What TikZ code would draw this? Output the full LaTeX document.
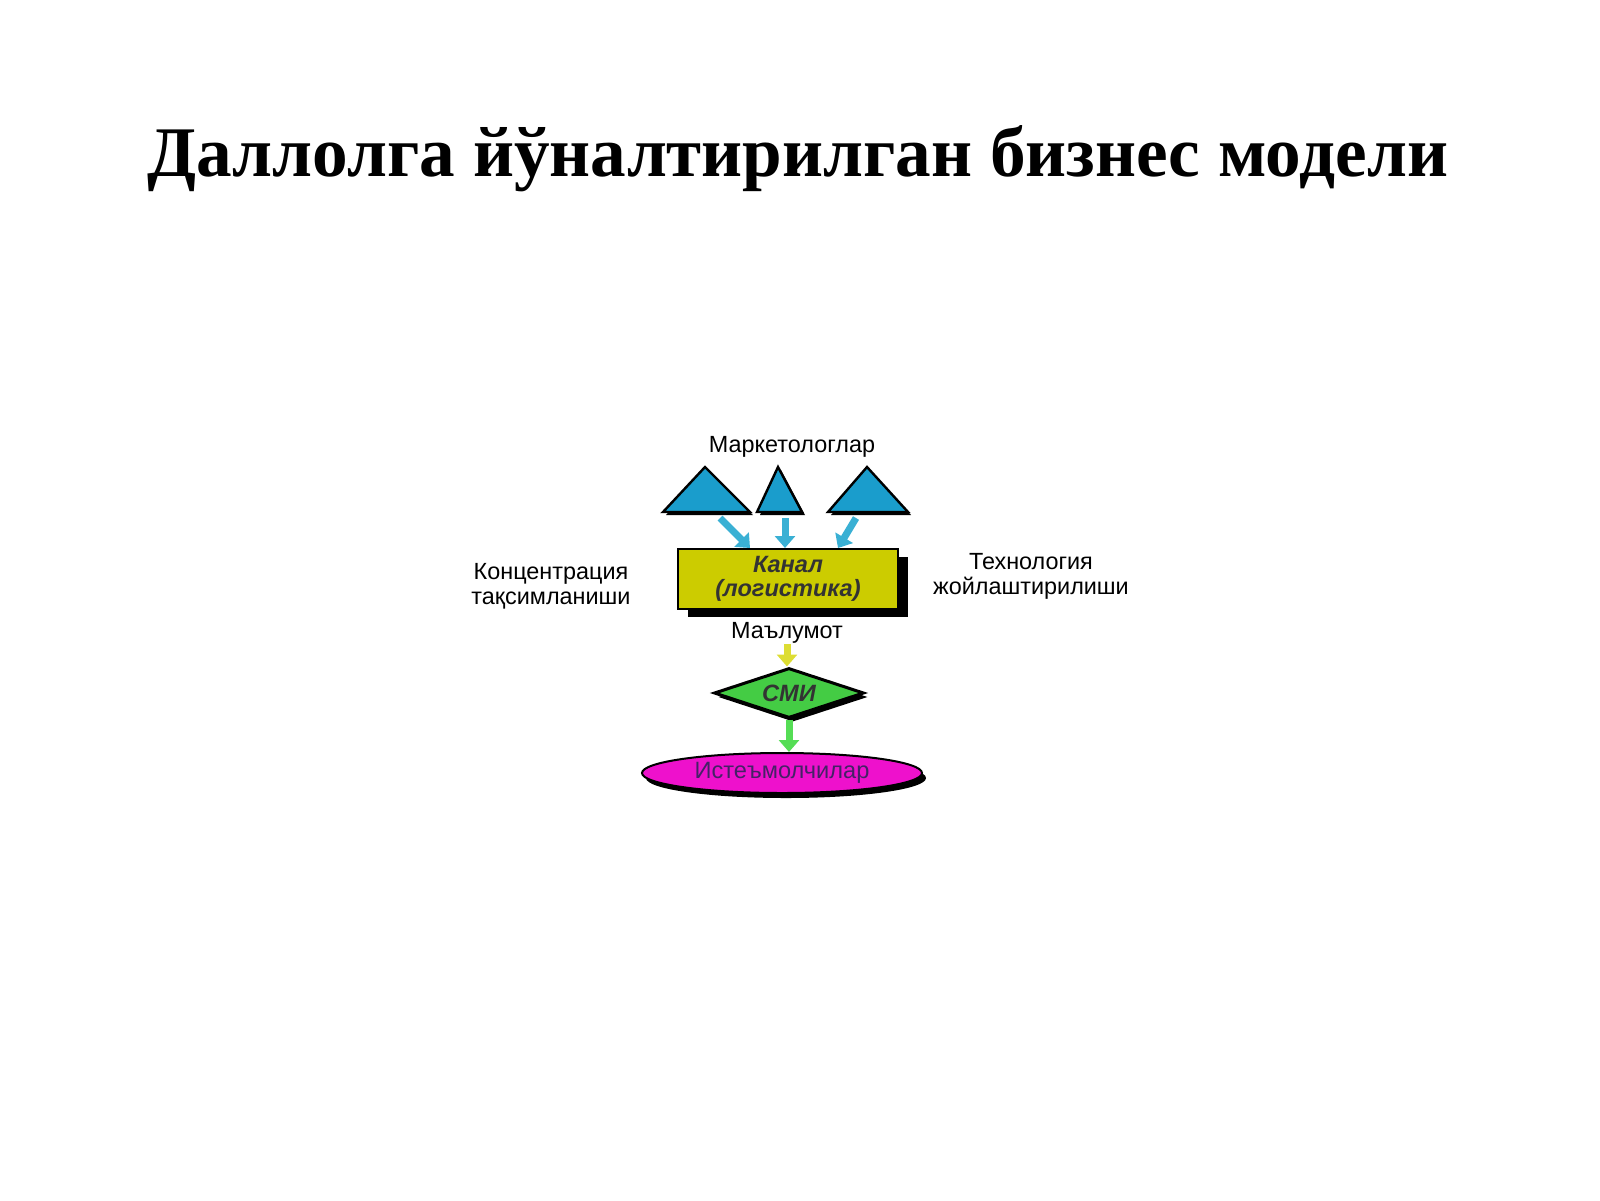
\documentclass[tikz,border=0pt]{standalone}
\usepackage{fontspec}
\setmainfont{Liberation Serif}
\newfontfamily\labelfont{Liberation Sans}
\usetikzlibrary{shapes.geometric,arrows.meta,shadows}

\definecolor{triblue}{HTML}{1A9DCC}
\definecolor{arrowblue}{HTML}{3AB0D4}
\definecolor{canalyellow}{HTML}{CCCC00}
\definecolor{infoyellow}{HTML}{DDDD33}
\definecolor{smigreen}{HTML}{44CC44}
\definecolor{arrowgreen}{HTML}{55DD55}
\definecolor{usermagenta}{HTML}{EE11CC}
\definecolor{userpurple}{HTML}{442266}

\tikzset{
  sidetext/.style={font=\labelfont\fontsize{11.7}{12.5}\selectfont, align=center, inner sep=0pt},
  boxtext/.style={font=\labelfont\bfseries\itshape\fontsize{11.8}{11.8}\selectfont, text=black!80},
  fatarrow/.style={line width=3.5pt, -{Triangle[length=6pt,width=10pt]}}
}

\begin{document}
\begin{tikzpicture}[x=0.5pt, y=-0.5pt]
    % Page size of the slide (1600 x 1200 px)
    \useasboundingbox (0,0) rectangle (1600,1200);

    % Slide title
    \node[font=\bfseries\fontsize{35.6}{40}\selectfont] (title) at (798,159) {Даллолга йўналтирилган бизнес модели};

    % Marketing people on top
    \node[sidetext] (market) at (792,447) {Маркетологлар};

    % Three triangles with a black shadow
    \foreach \l/\a/\r [count=\i] in {663/705/750, 757/778/802, 828/867/908} {
        \fill[black] (\l+3,515) -- (\a+3,470) -- (\r+3,515) -- cycle;  % shadow
        \filldraw[fill=triblue, draw=black, line width=1.2pt] (\l,512) -- (\a,467) -- (\r,512) -- cycle;
    }
    \coordinate (s1) at (720,518);  % below left triangle
    \coordinate (s2) at (785,518);  % below middle triangle
    \coordinate (s3) at (856,518);  % below right triangle

    % Channel box (logistics)
    \node[draw=black, line width=1pt, fill=canalyellow, minimum width=110pt, minimum height=30pt,
          drop shadow={shadow xshift=5pt, shadow yshift=-4pt, fill=black, opacity=1},
          boxtext, align=center] (canal) at (788,579) {Канал\\(логистика)};

    % Side labels
    \node[sidetext] (conc) at (551,586) {Концентрация\\тақсимланиши};
    \node[sidetext] (tech) at (1031,576) {Технология\\жойлаштирилиши};

    % Information and the media
    \node[sidetext] (info) at (787,633) {Маълумот};
    \node[diamond, aspect=3, inner sep=0pt, minimum width=75pt, minimum height=25pt,
          draw=black, line width=1.5pt, fill=smigreen,
          drop shadow={shadow xshift=2pt, shadow yshift=-2pt, fill=black, opacity=1},
          boxtext] (smi) at (789,693) {СМИ};

    % Consumers
    \node[ellipse, inner sep=0pt, minimum width=140pt, minimum height=20pt,
          draw=black, line width=1pt, fill=usermagenta,
          drop shadow={shadow xshift=2pt, shadow yshift=-2.5pt, fill=black, opacity=1},
          font=\labelfont\fontsize{11.8}{12}\selectfont, text=userpurple] (users) at (782,773) {Истеъмолчилар};

    % Arrows from the triangles into the channel
    \draw[fatarrow, arrowblue] (s1) -- ([xshift=-19pt]canal.north);
    \draw[fatarrow, arrowblue] (s2) -- ([xshift=-1.5pt]canal.north);
    \draw[fatarrow, arrowblue] (s3) -- ([xshift=25pt]canal.north);

    % Arrows down the chain
    \draw[fatarrow, infoyellow] (info.south) -- (info.south |- smi.north);
    \draw[fatarrow, arrowgreen] (smi.south) -- (smi.south |- users.north);
\end{tikzpicture}
\end{document}
